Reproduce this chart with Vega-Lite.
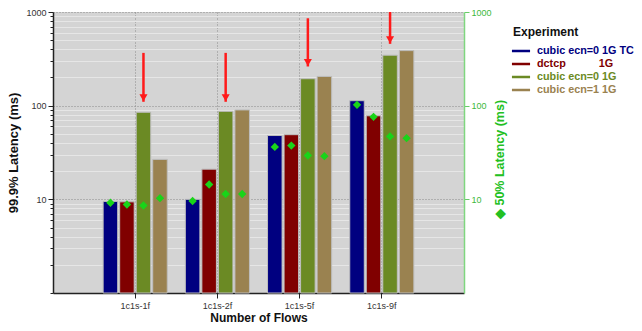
{
  "$schema": "https://vega.github.io/schema/vega-lite/v6.json",
  "autosize": "none",
  "width": 411,
  "height": 281,
  "padding": {"left": 53, "top": 12, "right": 178, "bottom": 38},
  "background": "white",
  "config": {
    "font": "Liberation Sans",
    "view": {"fill": "#d4d4d4", "stroke": null},
    "axis": {"labelFont": "Liberation Sans", "titleFont": "Liberation Sans"}
  },
  "datasets": {
    "bars": [
      {"flow": "1c1s-1f", "series": "cubic ecn=0 1G TC", "p999": 9.5, "p50": 9.2},
      {"flow": "1c1s-1f", "series": "dctcp\u00a0\u00a0\u00a0\u00a0\u00a0\u00a0\u00a0\u00a0\u00a0\u00a0\u00a01G", "p999": 9.4, "p50": 8.8},
      {"flow": "1c1s-1f", "series": "cubic ecn=0 1G", "p999": 85, "p50": 8.6},
      {"flow": "1c1s-1f", "series": "cubic ecn=1 1G", "p999": 26.7, "p50": 10.3},
      {"flow": "1c1s-2f", "series": "cubic ecn=0 1G TC", "p999": 10, "p50": 9.6},
      {"flow": "1c1s-2f", "series": "dctcp\u00a0\u00a0\u00a0\u00a0\u00a0\u00a0\u00a0\u00a0\u00a0\u00a0\u00a01G", "p999": 21, "p50": 14.4},
      {"flow": "1c1s-2f", "series": "cubic ecn=0 1G", "p999": 87, "p50": 11.4},
      {"flow": "1c1s-2f", "series": "cubic ecn=1 1G", "p999": 90, "p50": 11.4},
      {"flow": "1c1s-5f", "series": "cubic ecn=0 1G TC", "p999": 48, "p50": 36.3},
      {"flow": "1c1s-5f", "series": "dctcp\u00a0\u00a0\u00a0\u00a0\u00a0\u00a0\u00a0\u00a0\u00a0\u00a0\u00a01G", "p999": 49, "p50": 37.5},
      {"flow": "1c1s-5f", "series": "cubic ecn=0 1G", "p999": 194, "p50": 29.4},
      {"flow": "1c1s-5f", "series": "cubic ecn=1 1G", "p999": 205, "p50": 28.9},
      {"flow": "1c1s-9f", "series": "cubic ecn=0 1G TC", "p999": 113, "p50": 102},
      {"flow": "1c1s-9f", "series": "dctcp\u00a0\u00a0\u00a0\u00a0\u00a0\u00a0\u00a0\u00a0\u00a0\u00a0\u00a01G", "p999": 78, "p50": 76},
      {"flow": "1c1s-9f", "series": "cubic ecn=0 1G", "p999": 346, "p50": 47},
      {"flow": "1c1s-9f", "series": "cubic ecn=1 1G", "p999": 387, "p50": 45}
    ],
    "arrows": [
      {"flow": "1c1s-1f", "series": "cubic ecn=0 1G", "where": "center", "top": 366, "tip": 110},
      {"flow": "1c1s-2f", "series": "cubic ecn=0 1G", "where": "edge", "top": 366, "tip": 110},
      {"flow": "1c1s-5f", "series": "cubic ecn=0 1G", "where": "edge", "top": 857, "tip": 262},
      {"flow": "1c1s-9f", "series": "cubic ecn=0 1G", "where": "edge", "top": 1000, "tip": 457}
    ]
  },
  "resolve": {"scale": {"y": "independent"}, "axis": {"y": "independent"}},
  "layer": [
    {
      "data": {"name": "bars"},
      "mark": {"type": "bar", "stroke": "#bdbdbd", "strokeWidth": 1},
      "encoding": {
        "x": {
          "field": "flow", "type": "nominal",
          "scale": {"paddingInner": 0.22, "paddingOuter": 0.61},
          "axis": {
            "title": "Number of Flows", "titleFontSize": 12, "titleFontWeight": "bold", "titleColor": "#111",
            "titlePadding": 2,
            "labelAngle": 0, "labelFontSize": 9, "labelColor": "#333", "labelPadding": 3,
            "bandPosition": 0.5,
            "tickSize": 5, "tickColor": "#222", "domainColor": "#222", "domainWidth": 1.5,
            "grid": true, "gridColor": "#8a8a8a", "gridDash": [1, 2], "gridWidth": 1
          }
        },
        "xOffset": {
          "field": "series", "type": "nominal",
          "scale": {"domain": ["cubic ecn=0 1G TC", "dctcp\u00a0\u00a0\u00a0\u00a0\u00a0\u00a0\u00a0\u00a0\u00a0\u00a0\u00a01G", "cubic ecn=0 1G", "cubic ecn=1 1G"], "paddingInner": 0.12, "paddingOuter": 0}
        },
        "y": {
          "field": "p999", "type": "quantitative",
          "scale": {"type": "log", "domain": [1, 1000], "nice": false},
          "axis": {
            "title": "99.9% Latency (ms)", "titleFontSize": 13, "titleFontWeight": "bold", "titleColor": "#111",
            "titlePadding": 5, "format": "d",
            "values": [1, 2, 3, 4, 5, 6, 7, 8, 9, 10, 20, 30, 40, 50, 60, 70, 80, 90, 100, 200, 300, 400, 500, 600, 700, 800, 900, 1000],
            "labelExpr": "(datum.value == 10 || datum.value == 100 || datum.value == 1000) ? datum.label : ''",
            "labelFontSize": 9, "labelColor": "#333", "labelPadding": 2,
            "tickColor": "#222", "domainColor": "#222", "domainWidth": 1.5,
            "tickSize": {"condition": {"test": "datum.value == 10 || datum.value == 100 || datum.value == 1000", "value": 5}, "value": 3},
            "grid": true,
            "gridColor": {"condition": {"test": "datum.value == 10 || datum.value == 100 || datum.value == 1000", "value": "#8a8a8a"}, "value": "#e6e6e6"},
            "gridDash": {"condition": {"test": "datum.value == 10 || datum.value == 100 || datum.value == 1000", "value": [1, 2]}, "value": []},
            "gridWidth": 1
          }
        },
        "y2": {"datum": 1},
        "color": {
          "field": "series", "type": "nominal",
          "scale": {
            "domain": ["cubic ecn=0 1G TC", "dctcp\u00a0\u00a0\u00a0\u00a0\u00a0\u00a0\u00a0\u00a0\u00a0\u00a0\u00a01G", "cubic ecn=0 1G", "cubic ecn=1 1G"],
            "range": ["#000080", "#800000", "#6b8a24", "#9a8250"]
          },
          "legend": {
            "title": "Experiment", "orient": "none", "legendX": 460, "legendY": 15,
            "titleFontSize": 12, "titleFontWeight": "bold", "titleColor": "#111", "titlePadding": 4,
            "labelFontSize": 10.8, "labelFontWeight": "bold",
            "labelColor": {"expr": "scale('color', datum.value)"},
            "symbolStrokeColor": {"expr": "scale('color', datum.value)"},
            "symbolType": "M-1.35,0H1.35", "symbolStrokeWidth": 2.5, "symbolSize": 180,
            "rowPadding": 0, "labelOffset": 8
          }
        }
      }
    },
    {
      "data": {"name": "arrows"},
      "transform": [{"filter": "datum.where == 'center'"}],
      "layer": [
        {
          "mark": {"type": "rule", "color": "#ff1a1a", "strokeWidth": 2.5},
          "encoding": {
            "x": {"field": "flow", "type": "nominal"},
            "xOffset": {"field": "series", "type": "nominal"},
            "y": {"field": "top", "type": "quantitative", "scale": {"type": "log", "domain": [1, 1000], "nice": false}, "axis": null},
            "y2": {"field": "tip"}
          }
        },
        {
          "mark": {"type": "point", "shape": "triangle-down", "filled": true, "color": "#ff1a1a", "opacity": 1, "size": 65, "yOffset": -4},
          "encoding": {
            "x": {"field": "flow", "type": "nominal"},
            "xOffset": {"field": "series", "type": "nominal"},
            "y": {"field": "tip", "type": "quantitative", "scale": {"type": "log", "domain": [1, 1000], "nice": false}, "axis": null}
          }
        }
      ]
    },
    {
      "data": {"name": "arrows"},
      "transform": [{"filter": "datum.where == 'edge'"}],
      "layer": [
        {
          "mark": {"type": "rule", "color": "#ff1a1a", "strokeWidth": 2.5, "xOffset": 8},
          "encoding": {
            "x": {"field": "flow", "type": "nominal"},
            "xOffset": {"field": "series", "type": "nominal"},
            "y": {"field": "top", "type": "quantitative", "scale": {"type": "log", "domain": [1, 1000], "nice": false}, "axis": null},
            "y2": {"field": "tip"}
          }
        },
        {
          "mark": {"type": "point", "shape": "triangle-down", "filled": true, "color": "#ff1a1a", "opacity": 1, "size": 65, "yOffset": -4, "xOffset": 8},
          "encoding": {
            "x": {"field": "flow", "type": "nominal"},
            "xOffset": {"field": "series", "type": "nominal"},
            "y": {"field": "tip", "type": "quantitative", "scale": {"type": "log", "domain": [1, 1000], "nice": false}, "axis": null}
          }
        }
      ]
    },
    {
      "data": {"name": "bars"},
      "mark": {"type": "point", "shape": "diamond", "filled": true, "color": "#19d419", "opacity": 1, "size": 70},
      "encoding": {
        "x": {"field": "flow", "type": "nominal"},
        "xOffset": {"field": "series", "type": "nominal"},
        "y": {
          "field": "p50", "type": "quantitative",
          "scale": {"type": "log", "domain": [1, 1000], "nice": false},
          "axis": {
            "orient": "right", "title": "\u25c6 50% Latency (ms)", "titleFontSize": 12.5, "titleFontWeight": "bold",
            "titleColor": "#22c022", "titleAngle": 270, "titleX": 35, "titleY": 147,
            "titleAlign": "center", "titleBaseline": "middle", "format": "d",
            "values": [10, 100, 1000], "labelFontSize": 9, "labelColor": "#3cb83c", "labelPadding": 2,
            "tickColor": "#66cc66", "tickSize": 5, "domainColor": "#7fd67f", "domainWidth": 1.5, "grid": false
          }
        }
      }
    }
  ]
}
